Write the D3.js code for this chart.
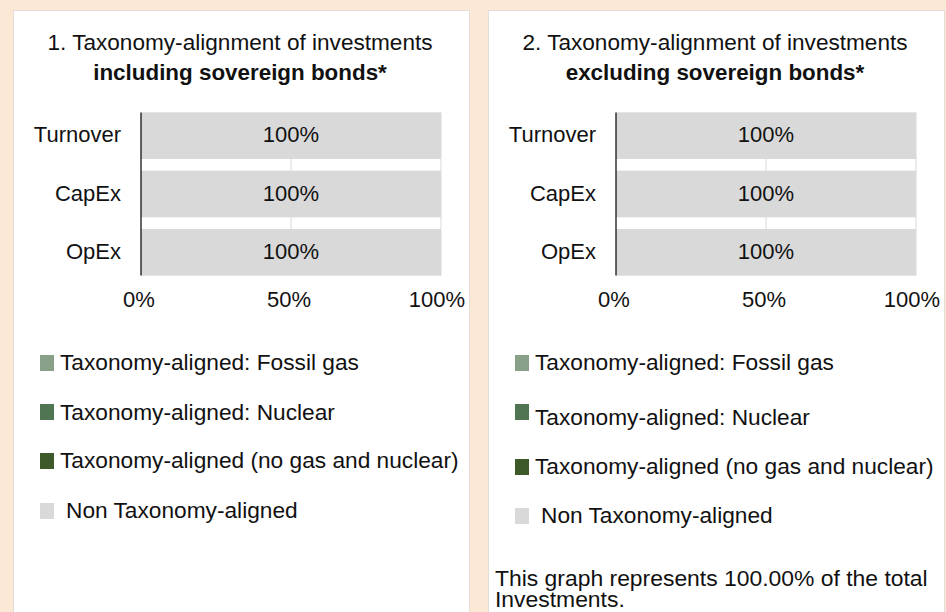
<!DOCTYPE html>
<html lang="en">
<head>
    <meta charset="UTF-8">
    <title>Taxonomy-alignment of investments</title>
    <script src="https://d3js.org/d3.v7.min.js"></script>
    <style>
        body { margin: 0; background: #fbe9d5; }
        svg { display: block; }
        text { font-family: "Liberation Sans", Arial, sans-serif; fill: #111; }
    </style>
</head>
<body>
<svg width="946" height="612"></svg>
<script>
    // data
    const categories = ["Turnover", "CapEx", "OpEx"];
    const seriesNames = [
        "Taxonomy-aligned: Fossil gas",
        "Taxonomy-aligned: Nuclear",
        "Taxonomy-aligned (no gas and nuclear)",
        "Non Taxonomy-aligned"
    ];
    const seriesColors = ["#87a087", "#4f7553", "#3e5a2b", "#d9d9d9"];
    const xTicks = [0, 50, 100];

    // chart 1: including sovereign bonds
    const inclFossilGas = [0, 0, 0];
    const inclNuclear = [0, 0, 0];
    const inclAligned = [0, 0, 0];
    const inclNonAligned = [100, 100, 100];

    // chart 2: excluding sovereign bonds
    const exclFossilGas = [0, 0, 0];
    const exclNuclear = [0, 0, 0];
    const exclAligned = [0, 0, 0];
    const exclNonAligned = [100, 100, 100];

    const footnote = ["This graph represents 100.00% of the total", "Investments."];

    const svg = d3.select("svg");

    function toRows(a, b, c, d) {
        return categories.map((cat, i) => ({
            cat: cat, s0: a[i], s1: b[i], s2: c[i], s3: d[i]
        }));
    }

    const panels = [
        {
            dx: 0,
            title: ["1. Taxonomy-alignment of investments", "including sovereign bonds*"],
            rows: toRows(inclFossilGas, inclNuclear, inclAligned, inclNonAligned),
            legendBox: [355, 404, 453, 503],
            legendText: [370, 420, 468, 518],
            note: null
        },
        {
            dx: 475,
            title: ["2. Taxonomy-alignment of investments", "excluding sovereign bonds*"],
            rows: toRows(exclFossilGas, exclNuclear, exclAligned, exclNonAligned),
            legendBox: [355, 404, 459, 508],
            legendText: [370, 425, 474, 523],
            note: footnote
        }
    ];

    const keys = ["s0", "s1", "s2", "s3"];

    panels.forEach(function(p) {
        const g = svg.append("g").attr("transform", "translate(" + p.dx + ",0)");

        // card
        g.append("rect")
            .attr("x", 13.5).attr("y", 10.5)
            .attr("width", 456).attr("height", 640)
            .attr("fill", "#fff")
            .attr("stroke", "#e2ddd7");

        // title
        const t = g.append("text")
            .attr("text-anchor", "middle")
            .style("font-size", "22.6px");
        t.append("tspan").attr("x", 240).attr("y", 50).text(p.title[0]);
        t.append("tspan").attr("x", 240).attr("y", 80)
            .style("font-weight", "bold").style("font-size", "22.4px").text(p.title[1]);

        const x = d3.scaleLinear().domain([0, 100]).range([141, 441]);
        const y = d3.scaleBand().domain(categories)
            .range([106.5, 281.5]).paddingInner(0.2).paddingOuter(0.1);

        // gridlines
        g.append("g").selectAll("line")
            .data(xTicks.filter(d => d > 0))
            .join("line")
            .attr("x1", d => x(d)).attr("x2", d => x(d))
            .attr("y1", y.range()[0] + 6).attr("y2", y.range()[1] - 6)
            .attr("stroke", "#d9d9d9");

        const stack = d3.stack().keys(keys)(p.rows);

        const layer = g.append("g").selectAll("g")
            .data(stack)
            .join("g")
            .attr("fill", (d, i) => seriesColors[i]);

        layer.selectAll("rect")
            .data(d => d)
            .join("rect")
            .attr("x", d => x(d[0]))
            .attr("y", d => y(d.data.cat))
            .attr("width", d => x(d[1]) - x(d[0]))
            .attr("height", y.bandwidth());

        // bar labels
        layer.selectAll("text")
            .data(d => d.filter(s => s[1] - s[0] > 0))
            .join("text")
            .attr("x", d => x((d[0] + d[1]) / 2))
            .attr("y", d => y(d.data.cat) + y.bandwidth() / 2)
            .attr("dy", "0.3em")
            .attr("text-anchor", "middle")
            .style("font-size", "22px")
            .text(d => d3.format(".0f")(d[1] - d[0]) + "%");

        // y axis line + labels
        g.append("line")
            .attr("x1", x(0)).attr("x2", x(0))
            .attr("y1", y.range()[0] + 6).attr("y2", y.range()[1] - 6)
            .attr("stroke", "#000").attr("stroke-width", 1.2);

        g.append("g").selectAll("text")
            .data(categories)
            .join("text")
            .attr("x", x(0) - 20)
            .attr("y", d => y(d) + y.bandwidth() / 2)
            .attr("dy", "0.3em")
            .attr("text-anchor", "end")
            .style("font-size", "22px")
            .text(d => d);

        // x tick labels
        g.append("g").selectAll("text")
            .data(xTicks)
            .join("text")
            .attr("x", d => x(d) - (d === 100 ? 4 : 2))
            .attr("y", 307)
            .attr("text-anchor", "middle")
            .style("font-size", "22px")
            .text(d => d + "%");

        // legend
        const leg = g.append("g").selectAll("g")
            .data(seriesNames)
            .join("g");
        leg.append("rect")
            .attr("x", 40)
            .attr("y", (d, i) => p.legendBox[i])
            .attr("width", 14).attr("height", 16)
            .attr("fill", (d, i) => seriesColors[i]);
        leg.append("text")
            .attr("x", (d, i) => i === 3 ? 66 : 60)
            .attr("y", (d, i) => p.legendText[i])
            .style("font-size", "22.7px")
            .text(d => d);

        if (p.note) {
            const n = g.append("text").style("font-size", "22.9px");
            p.note.forEach(function(line, i) {
                n.append("tspan").attr("x", 20).attr("y", 586 + i * 21).text(line);
            });
        }
    });
</script>
</body>
</html>
